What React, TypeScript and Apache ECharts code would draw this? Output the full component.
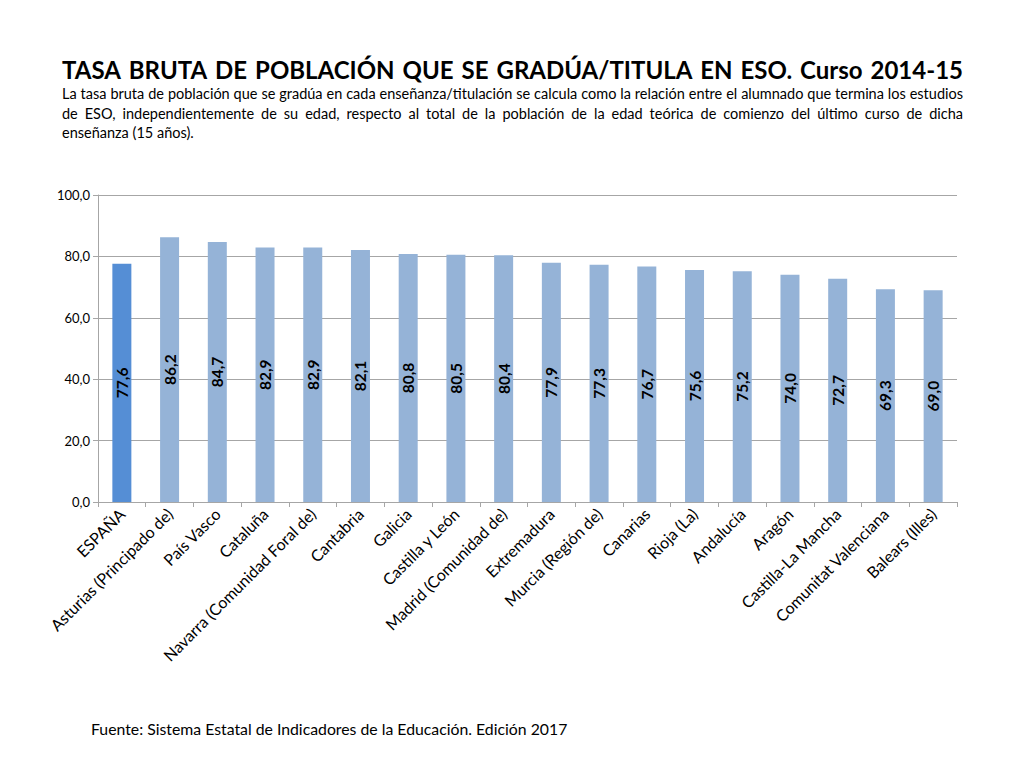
import React, { useEffect, useRef } from "react";
import * as echarts from "echarts";

const categories = [
  "ESPAÑA",
  "Asturias (Principado de)",
  "País Vasco",
  "Cataluña",
  "Navarra (Comunidad Foral de)",
  "Cantabria",
  "Galicia",
  "Castilla y León",
  "Madrid (Comunidad de)",
  "Extremadura",
  "Murcia (Región de)",
  "Canarias",
  "Rioja (La)",
  "Andalucía",
  "Aragón",
  "Castilla-La Mancha",
  "Comunitat Valenciana",
  "Balears (Illes)",
];

const values = [77.6, 86.2, 84.7, 82.9, 82.9, 82.1, 80.8, 80.5, 80.4, 77.9, 77.3, 76.7, 75.6, 75.2, 74.0, 72.7, 69.3, 69.0];

const yTicks = [0, 20, 40, 60, 80, 100];

const titleText = "TASA BRUTA DE POBLACIÓN QUE SE GRADÚA/TITULA EN ESO. Curso 2014-15";
const subtitleLines = [
  "La tasa bruta de población que se gradúa en cada enseñanza/titulación se calcula como la relación entre el alumnado que termina los estudios",
  "de ESO, independientemente de su edad, respecto al total de la población de la edad teórica de comienzo del último curso de dicha",
  "enseñanza (15 años).",
];
const sourceText = "Fuente: Sistema Estatal de Indicadores de la Educación. Edición 2017";

const FONT = "Lato, 'Open Sans', sans-serif";
const SPAIN_COLOR = "#558ED5";
const REGION_COLOR = "#95B3D7";

function measure(text: string, size: number, weight: string) {
  const ctx = document.createElement("canvas").getContext("2d")!;
  ctx.font = `${weight} ${size}px Lato`;
  return ctx.measureText(text).width;
}

function justifiedLine(line: string, y: number, size: number, weight: string, x0: number, x1: number) {
  const words = line.split(" ");
  const widths = words.map((w) => measure(w, size, weight));
  const total = widths.reduce((a, b) => a + b, 0);
  const gap = words.length > 1 ? (x1 - x0 - total) / (words.length - 1) : 0;
  let x = x0;
  return words.map((w, i) => {
    const el = {
      type: "text",
      x,
      y,
      style: {
        text: w,
        fontSize: size,
        fontWeight: weight,
        fontFamily: FONT,
        fill: "#000",
        textAlign: "left",
        textVerticalAlign: "middle",
      },
    };
    x += widths[i] + gap;
    return el;
  });
}

export default function App() {
  const ref = useRef<HTMLDivElement>(null);
  useEffect(() => {
    if (!ref.current) return;
    const chart = echarts.init(ref.current, null, { renderer: "svg" });
    const X0 = 62;
    const X1 = 963;
    const graphics: any[] = [
      ...justifiedLine(titleText, 69, 24, "bold", X0, X1),
      ...justifiedLine(subtitleLines[0], 93, 14.5, "normal", X0, X1),
      ...justifiedLine(subtitleLines[1], 113, 14.5, "normal", X0, X1),
      {
        type: "text",
        x: X0,
        y: 132,
        style: {
          text: subtitleLines[2],
          fontSize: 14.5,
          fontFamily: FONT,
          fill: "#000",
          textAlign: "left",
          textVerticalAlign: "middle",
        },
      },
      {
        type: "text",
        x: 91,
        y: 728,
        style: {
          text: sourceText,
          fontSize: 15.8,
          fontFamily: FONT,
          fill: "#000",
          textAlign: "left",
          textVerticalAlign: "middle",
        },
      },
    ];
    chart.setOption({
      animation: false,
      backgroundColor: "#fff",
      graphic: graphics,
      grid: { left: 98, right: 67, top: 195, bottom: 266, containLabel: false },
      xAxis: {
        type: "category",
        data: categories,
        boundaryGap: true,
        axisLine: { show: true, lineStyle: { color: "#A6A6A6", width: 1 } },
        axisTick: { show: true, alignWithLabel: false, length: 5, lineStyle: { color: "#A6A6A6" } },
        axisLabel: {
          interval: 0,
          rotate: 45,
          fontSize: 16,
          fontFamily: FONT,
          color: "#000",
          margin: 9,
        },
      },
      yAxis: {
        type: "value",
        min: yTicks[0],
        max: yTicks[yTicks.length - 1],
        interval: 20,
        axisLine: { show: true, lineStyle: { color: "#A6A6A6", width: 1 } },
        axisTick: { show: true, length: 5, lineStyle: { color: "#A6A6A6" } },
        splitLine: { show: true, lineStyle: { color: "#A6A6A6", width: 1 } },
        axisLabel: {
          fontSize: 13,
          fontFamily: FONT,
          color: "#000",
          margin: 8,
          formatter: (v: number) => v.toFixed(1).replace(".", ","),
        },
      },
      series: [
        {
          type: "bar",
          data: values.map((v, i) => ({
            value: v,
            itemStyle: { color: i === 0 ? SPAIN_COLOR : REGION_COLOR },
          })),
          barWidth: 19,
          label: {
            show: true,
            position: "inside",
            rotate: 90,
            align: "center",
            verticalAlign: "middle",
            fontSize: 15.5,
            fontWeight: "bold",
            fontFamily: FONT,
            color: "#000",
            formatter: (p: any) => Number(p.value).toFixed(1).replace(".", ","),
          },
        },
      ],
    });
    return () => chart.dispose();
  }, []);
  return <div ref={ref} style={{ width: 1024, height: 768, position: "absolute", left: 0, top: 0 }} />;
}
